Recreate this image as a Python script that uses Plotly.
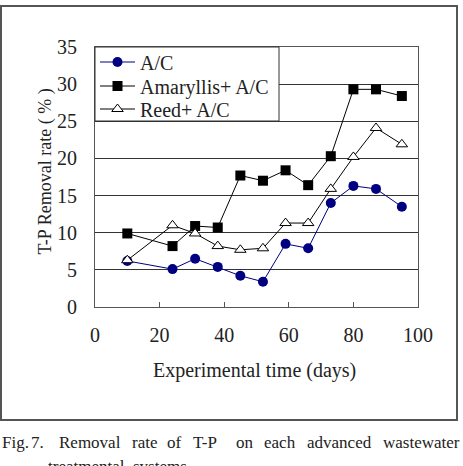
import plotly.graph_objects as go

days = [10, 24, 31, 38, 45, 52, 59, 66, 73, 80, 87, 95]
ac = [6.2, 5.1, 6.5, 5.4, 4.2, 3.4, 8.5, 7.9, 14.0, 16.3, 15.9, 13.5]
amaryllis = [9.9, 8.2, 10.9, 10.7, 17.7, 17.0, 18.4, 16.4, 20.3, 29.3, 29.3, 28.4]
reed = [6.3, 11.0, 9.9, 8.2, 7.7, 7.9, 11.3, 11.3, 15.9, 20.2, 24.1, 21.9]

x_ticks = [0, 20, 40, 60, 80, 100]
y_ticks = [0, 5, 10, 15, 20, 25, 30, 35]

caption_words = ["Fig.", "7.", "Removal", "rate", "of", "T-P", "on", "each", "advanced", "wastewater"]
caption_line2 = "treatmental  systems"

FONT = "Liberation Serif"
W, H = 463, 466

fig = go.Figure()
fig.add_trace(go.Scatter(x=days, y=ac, name="A/C", mode="lines+markers", legend="legend",
                         line=dict(color="#000080", width=1),
                         marker=dict(symbol="circle", size=10, color="#000080")))
fig.add_trace(go.Scatter(x=days, y=amaryllis, name="Amaryllis+ A/C", mode="lines+markers",
                         legend="legend2",
                         line=dict(color="black", width=1),
                         marker=dict(symbol="square", size=10, color="black")))
fig.add_trace(go.Scatter(x=days, y=reed, name="Reed+ A/C", mode="lines+markers",
                         legend="legend3",
                         line=dict(color="black", width=1),
                         marker=dict(symbol="triangle-up", size=10, color="white",
                                     line=dict(color="black", width=1))))

px0, px1 = 95, 418
py0, py1 = 307, 47
xd = [px0 / W, px1 / W]
yd = [(H - py0) / H, (H - py1) / H]


def leg(row_y):
    return dict(x=px0 / W, y=(H - row_y) / H, xanchor="left", yanchor="middle",
                bgcolor="rgba(0,0,0,0)", borderwidth=0,
                font=dict(family=FONT, size=20, color="#222"),
                itemwidth=35)


fig.update_layout(
    width=W, height=H,
    margin=dict(l=0, r=0, t=0, b=0, autoexpand=False),
    paper_bgcolor="white", plot_bgcolor="white",
    font=dict(family=FONT, size=20, color="#222"),
    xaxis=dict(domain=xd, range=[0, 100], tickvals=x_ticks, showgrid=False,
               zeroline=False, showline=True, linecolor="#555", linewidth=1,
               mirror=True, ticks="inside", ticklen=5, tickcolor="#555",
               ticklabelstandoff=10, tickfont=dict(size=20), automargin=False),
    yaxis=dict(domain=yd, range=[0, 35], tickvals=y_ticks, showgrid=True,
               gridcolor="#333", gridwidth=1, zeroline=False, showline=True,
               linecolor="#555", linewidth=1, mirror=True, ticks="",
               ticklabelstandoff=13, tickfont=dict(size=20), automargin=False),
    legend=leg(62),
    legend2=leg(86),
    legend3=leg(109),
    showlegend=True,
)

# legend box
fig.add_shape(type="rect", xref="paper", yref="paper", layer="above",
              x0=px0 / W, x1=279 / W, y0=(H - 121) / H, y1=(H - 47) / H,
              fillcolor="white", line=dict(color="#333", width=1))

fig.add_annotation(text="T-P Removal rate ( % )", textangle=-90, x=32 / W, y=(H - 172) / H,
                   xref="paper", yref="paper", showarrow=False,
                   font=dict(family=FONT, size=18, color="#222"))
fig.add_annotation(text="Experimental time (days)", x=254 / W, y=(H - 384) / H,
                   xref="paper", yref="paper", showarrow=False,
                   font=dict(family=FONT, size=20, color="#222"))

# outer frame
fig.add_shape(type="rect", xref="paper", yref="paper",
              x0=1 / W, x1=457 / W, y0=(H - 420) / H, y1=(H - 6) / H,
              line=dict(color="#555", width=2))

# caption (justified)
word_x = [0, 29, 57, 130, 165, 191, 234, 262, 305, 381]
for w, xx in zip(caption_words, word_x):
    fig.add_annotation(text=w, x=xx / W, y=(H - 431) / H, xref="paper", yref="paper",
                       xanchor="left", yanchor="top", showarrow=False,
                       font=dict(family=FONT, size=17, color="#222"))
fig.add_annotation(text=caption_line2, x=46 / W, y=(H - 455) / H, xref="paper",
                   yref="paper", xanchor="left", yanchor="top", showarrow=False,
                   font=dict(family=FONT, size=17, color="#222"))

fig.write_html("out.html")
